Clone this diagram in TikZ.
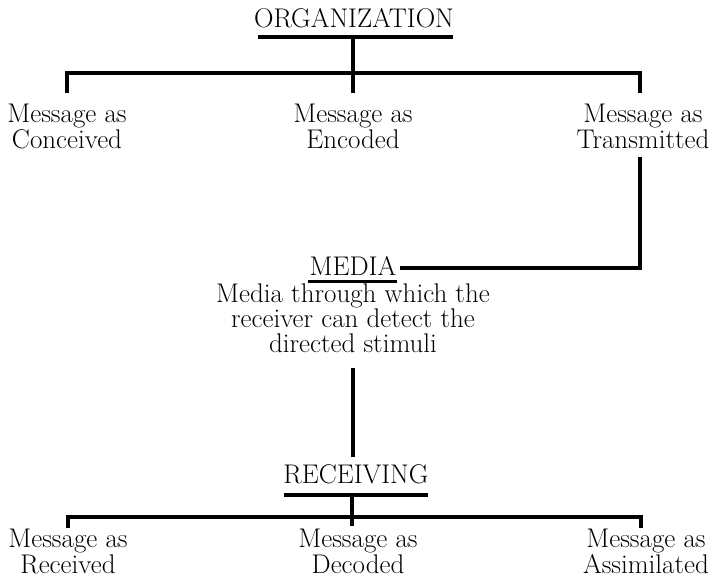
\documentclass[tikz,border=0pt]{standalone}
\begin{document}
\begin{tikzpicture}[x=1pt,y=-1pt,
  lbl/.style={inner sep=0pt,outer sep=0pt,anchor=base,align=center,font=\fontsize{27}{26}\selectfont},
  desc/.style={lbl,font=\fontsize{27}{25}\selectfont},
  bar/.style={line width=4.5pt,line join=miter},
  thin/.style={line width=4pt,line join=miter}]
\useasboundingbox (0,0) rectangle (710,579);
% nodes (base anchor = baseline of last line)
\node[lbl] (org) at (354,27) {ORGANIZATION};
\node[lbl] (mc) at (67,148) {Message as\\Conceived};
\node[lbl] (me) at (353,148) {Message as\\Encoded};
\node[lbl] (mt) at (643,148) {Message as\\Transmitted};
\node[lbl] (media) at (353,275) {MEDIA};
\node[desc] (mdesc) at (353,352) {Media through which the\\receiver can detect the\\directed stimuli};
\node[lbl] (recv) at (356,483) {RECEIVING};
\node[lbl] (mr) at (68,573) {Message as\\Received};
\node[lbl] (md) at (358,573) {Message as\\Decoded};
\node[lbl] (ma) at (646,573) {Message as\\Assimilated};
% coordinates
\coordinate (orgL) at (258,37);
\coordinate (orgR) at (453,37);
\coordinate (orgS) at (353,37);
\coordinate (orgB) at (353,93);
\coordinate (mcT) at (67,93);
\coordinate (mtT) at (640,93);
\coordinate (topH) at (0,73);
\coordinate (mtB) at (640,157);
\coordinate (medR) at (400,268);
\coordinate (medL) at (308,281);
\coordinate (medU) at (397,281);
\coordinate (vTop) at (353,368);
\coordinate (vBot) at (353,457);
\coordinate (recL) at (284,495);
\coordinate (recR) at (428,495);
\coordinate (recS) at (352,495);
\coordinate (recB) at (352,526);
\coordinate (mrT) at (68,528);
\coordinate (maT) at (641,528);
\coordinate (botH) at (0,517);
% top tree
\draw[bar] (orgL) -- (orgR);
\draw[thin] (orgS) -- (orgB);
\draw[thin] (mcT) |- (topH -| mtT) -- (mtT);
% to media
\draw[thin] (mtB) |- (medR);
\draw[line width=3pt] (medL) -- (medU);
% media to receiving
\draw[thin] (vTop) -- (vBot);
% bottom tree
\draw[bar] (recL) -- (recR);
\draw[thin] (recS) -- (recB);
\draw[thin] (mrT) |- (botH -| maT) -- (maT);
\end{tikzpicture}
\end{document}
